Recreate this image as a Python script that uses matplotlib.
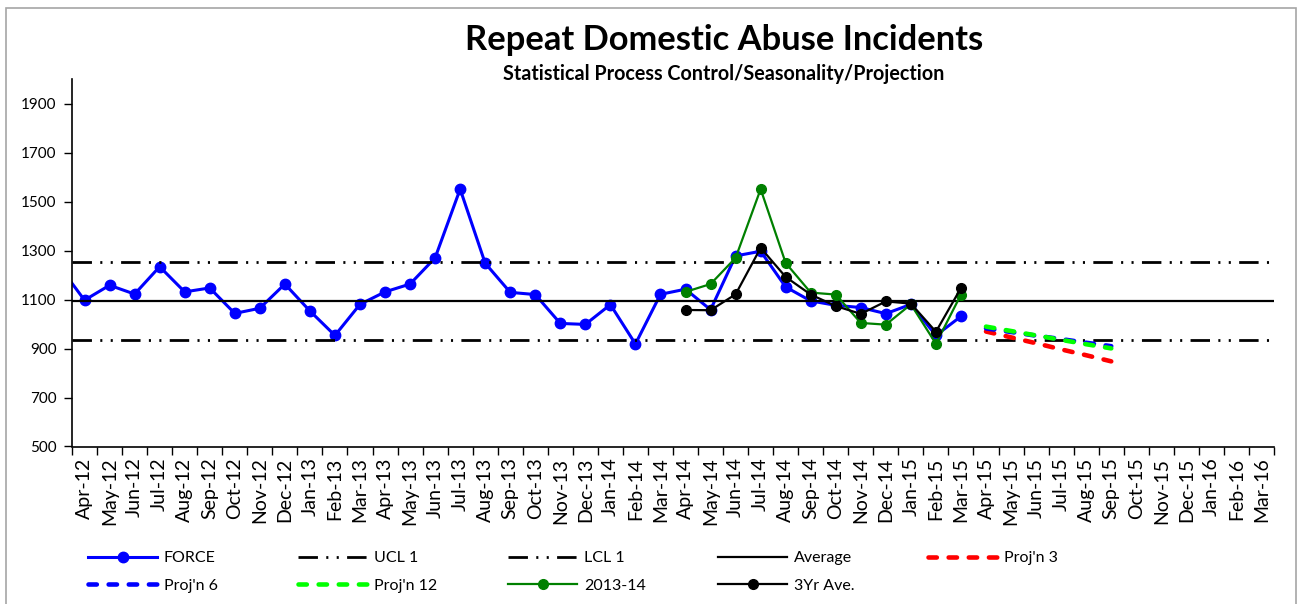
import matplotlib
matplotlib.use("Agg")
import matplotlib.pyplot as plt
from matplotlib.patches import Rectangle

plt.rcParams["font.family"] = ["Lato", "DejaVu Sans"]
plt.rcParams["lines.scale_dashes"] = False

# months shown on the axis start at Apr-12; Mar-12 is only there so the
# FORCE line enters from the left edge like the original
months = ["Mar-12", "Apr-12", "May-12", "Jun-12", "Jul-12", "Aug-12", "Sep-12",
          "Oct-12", "Nov-12", "Dec-12", "Jan-13", "Feb-13", "Mar-13",
          "Apr-13", "May-13", "Jun-13", "Jul-13", "Aug-13", "Sep-13",
          "Oct-13", "Nov-13", "Dec-13", "Jan-14", "Feb-14", "Mar-14",
          "Apr-14", "May-14", "Jun-14", "Jul-14", "Aug-14", "Sep-14",
          "Oct-14", "Nov-14", "Dec-14", "Jan-15", "Feb-15", "Mar-15",
          "Apr-15", "May-15", "Jun-15", "Jul-15", "Aug-15", "Sep-15",
          "Oct-15", "Nov-15", "Dec-15", "Jan-16", "Feb-16", "Mar-16"]

force = [1236, 1098, 1159, 1123, 1235, 1132, 1148, 1044, 1065, 1164, 1054, 954,
         1081, 1132, 1164, 1271, 1552, 1249, 1130, 1121, 1003, 999, 1080, 919,
         1122, 1143, 1059, 1279, 1298, 1152, 1095, 1077, 1068, 1043, 1081, 954,
         1032]
# Apr-14 .. Mar-15
fy_1314 = [1132, 1164, 1271, 1552, 1250, 1129, 1121, 1005, 998, 1081, 920, 1121]
ave_3yr = [1058, 1057, 1122, 1312, 1193, 1121, 1074, 1042, 1093, 1084, 969, 1148]
# Apr-15 .. Sep-15
proj3 = [970, 946, 922, 897, 873, 848]
proj6 = [983, 968, 953, 939, 924, 910]
proj12 = [990, 972, 954, 936, 918, 901]

ucl1 = 1253
lcl1 = 934
average = 1093

x_all = list(range(len(months)))
x_force = x_all[:len(force)]
i14 = months.index("Apr-14")
x_1314 = x_all[i14:i14 + len(fy_1314)]
i15 = months.index("Apr-15")
x_proj = x_all[i15:i15 + len(proj3)]

fig = plt.figure(figsize=(12.97, 6.04), dpi=100)
ax = fig.add_axes([72 / 1297, 1 - 446.5 / 604, 1202 / 1297, 367 / 604])

dd = (0, (14, 6, 1.5, 6, 1.5, 6))
dash = (0, (6, 8.5))

h_force, = ax.plot(x_force, force, color="#0000ff", lw=2.2, marker="o", ms=7.5,
                   label="FORCE", zorder=2)
h_ucl = ax.axhline(ucl1, color="black", lw=2, ls=dd, label="UCL 1", zorder=3)
h_lcl = ax.axhline(lcl1, color="black", lw=2, ls=dd, label="LCL 1", zorder=3)
h_avg = ax.axhline(average, color="black", lw=1.6, label="Average", zorder=3)
h_p3, = ax.plot(x_proj, proj3, color="#ff0000", lw=3.3, ls=dash,
                dash_capstyle="round", label="Proj'n 3", zorder=4)
h_p6, = ax.plot(x_proj, proj6, color="#0000ff", lw=3.3, ls=dash,
                dash_capstyle="round", label="Proj'n 6", zorder=4)
h_p12, = ax.plot(x_proj, proj12, color="#00ff00", lw=3.3, ls=dash,
                 dash_capstyle="round", label="Proj'n 12", zorder=4)
h_13, = ax.plot(x_1314, fy_1314, color="#008000", lw=1.6, marker="o", ms=7,
                label="2013-14", zorder=5)
h_3y, = ax.plot(x_1314, ave_3yr, color="black", lw=1.6, marker="o", ms=7,
                label="3Yr Ave.", zorder=6)

ax.set_xlim(0.5, len(months) - 0.5)
ax.set_ylim(500, 2000)
ax.set_yticks(range(500, 2000, 200))
ax.set_xticks(x_all[1:])
ax.set_xticklabels(months[1:], rotation=90, fontsize=14)
ax.set_xticks([i + 0.5 for i in x_all], minor=True)
ax.tick_params(axis="x", which="major", length=0, pad=8)
ax.tick_params(axis="x", which="minor", length=6, width=1, direction="out")
ax.tick_params(axis="y", length=6, width=1, labelsize=11, pad=5)
for s in ("top", "right"):
    ax.spines[s].set_visible(False)
ax.spines["left"].set_linewidth(1.2)
ax.spines["bottom"].set_linewidth(1.2)

fig.text(724 / 1297, 1 - 40 / 604, "Repeat Domestic Abuse Incidents",
         ha="center", va="center", fontsize=24.8, fontweight="bold")
fig.text(724 / 1297, 1 - 74 / 604, "Statistical Process Control/Seasonality/Projection",
         ha="center", va="center", fontsize=14.2, fontweight="bold")

# legend: five columns, Excel style
handles = [h_force, h_ucl, h_lcl, h_avg, h_p3, h_p6, h_p12, h_13, h_3y]
col_x = [88, 298, 508, 718, 928]
for c, cx in enumerate(col_x):
    hs = handles[c::5]
    fig.legend(handles=hs, labels=[h.get_label() for h in hs],
               loc="upper left", bbox_to_anchor=(cx / 1297, 1 - 551 / 604),
               frameon=False, fontsize=11.5, handlelength=4.35, handletextpad=0.4,
               borderpad=0, borderaxespad=0, labelspacing=0.85, numpoints=1,
               markerscale=1.0)

fig.patches.append(Rectangle((6 / 1297, -0.05), 1289.5 / 1297, 1.05 - 8 / 604,
                             transform=fig.transFigure, fill=False,
                             edgecolor="#a6a6a6", lw=1.2))

fig.savefig("out.png", dpi=100)
